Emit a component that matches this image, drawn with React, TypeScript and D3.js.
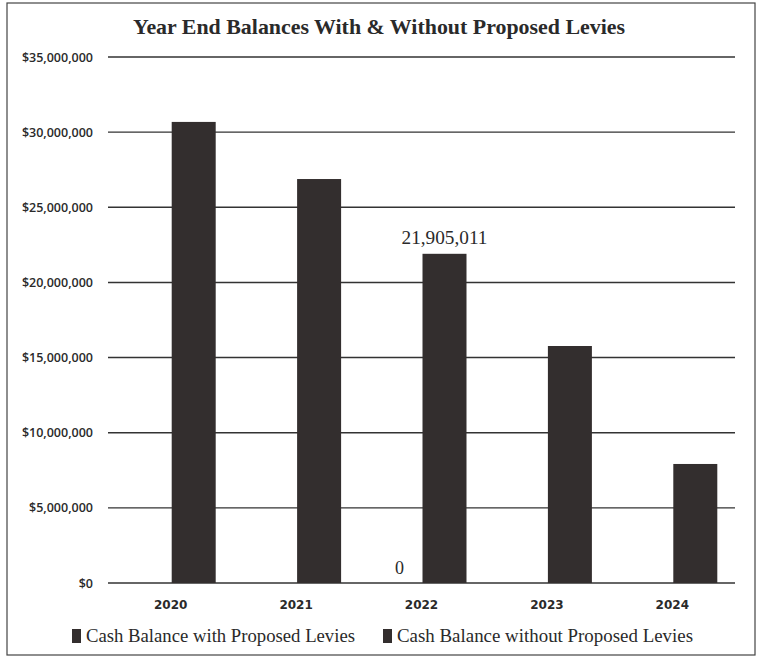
import React from "react";
import * as d3 from "d3";

const years = ["2020", "2021", "2022", "2023", "2024"];
const withLevies = [0, 0, 0, 0, 0];
const withoutLevies = [30680000, 26880000, 21905011, 15770000, 7920000];
const yTicks = [0, 5000000, 10000000, 15000000, 20000000, 25000000, 30000000, 35000000];
const seriesNames = ["Cash Balance with Proposed Levies", "Cash Balance without Proposed Levies"];

export default function App() {
  const W = 762, H = 658;
  const left = 108, right = 735, top = 57, bottom = 583;
  const x = d3.scaleBand<string>().domain(years).range([left, right]).paddingInner(0).paddingOuter(0);
  const y = d3.scaleLinear().domain([0, 35000000]).range([bottom, top]);
  const bw = 44;
  const fmtTick = (v: number) => "$" + d3.format(",")(v);
  const color = "#332e2e";
  return (
    <svg width={W} height={H} style={{ position: "absolute", left: 0, top: 0, background: "#fff" }}>
      <rect x={7} y={3} width={748} height={652} fill="#fff" stroke="#444" strokeWidth={1.2} />
      <text x={379} y={34} textAnchor="middle" fontFamily="Liberation Serif" fontWeight="bold" fontSize={22} fill="#2a2a2a"
        textLength={492} lengthAdjust="spacingAndGlyphs">
        Year End Balances With &amp; Without Proposed Levies
      </text>
      {yTicks.map((t) => (
        <g key={t}>
          <line x1={left} x2={right} y1={y(t)} y2={y(t)} stroke="#333" strokeWidth={1.4} />
          <text x={93} y={y(t) + 4.5} textAnchor="end" fontFamily="Open Sans" fontWeight={600} fontSize={12.5} fill="#2a2a2a">
            {fmtTick(t)}
          </text>
        </g>
      ))}
      {years.map((yr, i) => {
        const c = (x(yr) as number) + x.bandwidth() / 2;
        return (
          <g key={yr}>
            <rect x={c - bw} y={y(withLevies[i])} width={bw} height={bottom - y(withLevies[i])} fill={color} />
            <rect x={c + 1} y={y(withoutLevies[i])} width={bw} height={bottom - y(withoutLevies[i])} fill={color} />
            <text x={c} y={609} textAnchor="middle" fontFamily="DejaVu Sans" fontWeight={700} fontSize={12} fill="#2a2a2a">
              {yr}
            </text>
            {yr === "2022" && (
              <>
                <text x={c - bw / 2} y={y(withLevies[i]) - 9} textAnchor="middle" fontFamily="Liberation Serif" fontSize={18} fill="#2a2a2a">
                  {d3.format(",")(withLevies[i])}
                </text>
                <text x={c + 1 + bw / 2} y={y(withoutLevies[i]) - 10} textAnchor="middle" fontFamily="Liberation Serif" fontSize={18} fill="#2a2a2a"
                  textLength={86} lengthAdjust="spacingAndGlyphs">
                  {d3.format(",")(withoutLevies[i])}
                </text>
              </>
            )}
          </g>
        );
      })}
      {seriesNames.map((s, i) => {
        const lx = [72, 383][i];
        const len = [269, 296][i];
        return (
          <g key={s}>
            <rect x={lx} y={629} width={9} height={14} fill={color} />
            <text x={lx + 14} y={642} fontFamily="Liberation Serif" fontSize={19} fill="#2a2a2a"
              textLength={len} lengthAdjust="spacingAndGlyphs">
              {s}
            </text>
          </g>
        );
      })}
    </svg>
  );
}
